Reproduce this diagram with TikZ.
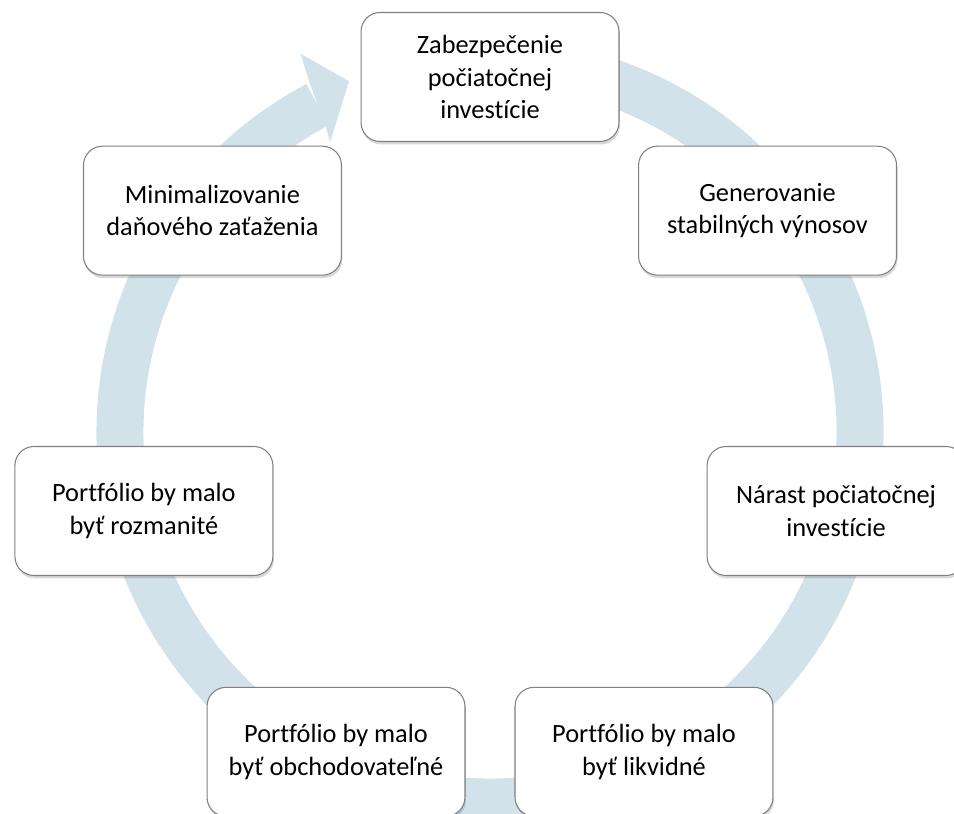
\documentclass[tikz,border=0pt]{standalone}
\usepackage{fontspec}
\setmainfont{Carlito}[Ligatures={NoCommon}]
\usetikzlibrary{shadows,calc}
\definecolor{ringblue}{HTML}{D1E2EA}
\definecolor{boxline}{HTML}{808080}
\tikzset{
  stepbox/.style={draw=boxline, line width=0.6pt, fill=white, rounded corners=0.38cm,
    minimum width=5.16cm, minimum height=2.58cm, align=center, inner sep=2pt,
    font=\fontsize{15}{18.5}\selectfont,
    drop shadow={shadow xshift=0.02cm, shadow yshift=-0.06cm, opacity=0.25, fill=black!60}},
  ringband/.style={draw=ringblue, line width=0.94cm, line cap=butt},
  ringhead/.style={fill=ringblue, draw=none}
}
\begin{document}
\begin{tikzpicture}[x=0.02cm, y=0.02cm]
\useasboundingbox (0,0) rectangle (954,814);
\coordinate (C) at (490,382);
% ring band
\draw[ringband] ($(C)+(80:370)$) arc[start angle=80, end angle=-242.2, radius=370];
% arrow head
\coordinate (h1) at ($(C)+(116.6:423)$);
\coordinate (h2) at ($(C)+(118.9:331)$);
\coordinate (ht) at ($(C)+(111.9:378)$);
\fill[ringhead] (h1) -- (ht) -- (h2) -- ($(C)+(118.3:346)$) -- ($(C)+(117.3:394)$) -- cycle;
% boxes
\node[stepbox] (s1) at ($(C)+(90:355)$) {Zabezpečenie\\počiatočnej\\investície};
\node[stepbox] (s2) at ($(C)+(38.57:355)$) {Generovanie\\stabilných výnosov};
\node[stepbox] (s3) at ($(C)+(-12.86:355)$) {Nárast počiatočnej\\investície};
\node[stepbox] (s4) at ($(C)+(-64.29:355)$) {Portfólio by malo\\byť likvidné};
\node[stepbox] (s5) at ($(C)+(-115.71:355)$) {Portfólio by malo\\byť obchodovateľné};
\node[stepbox] (s6) at ($(C)+(192.86:355)$) {Portfólio by malo\\byť rozmanité};
\node[stepbox] (s7) at ($(C)+(141.43:355)$) {Minimalizovanie\\daňového zaťaženia};
\end{tikzpicture}
\end{document}
